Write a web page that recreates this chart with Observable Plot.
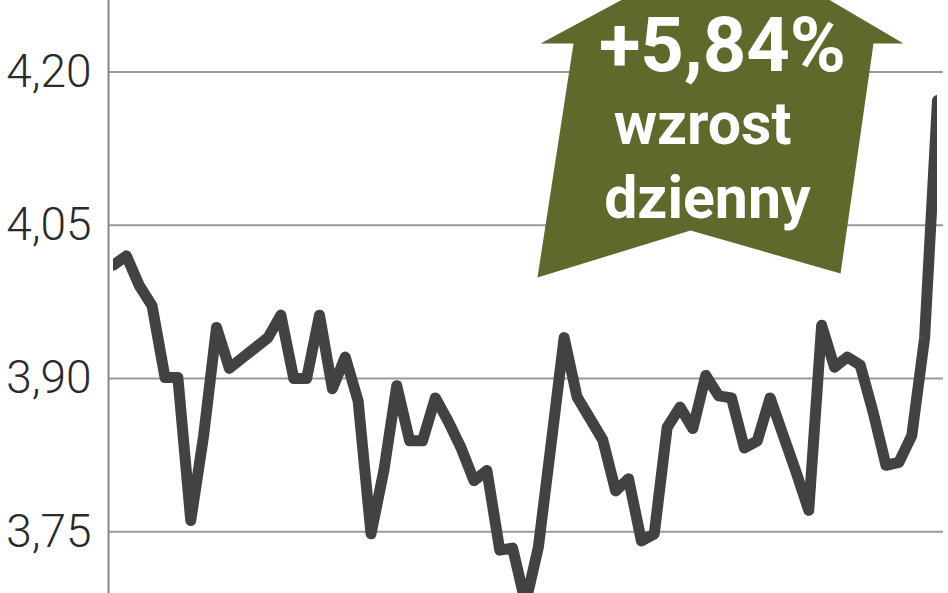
<!DOCTYPE html>
<html><head><meta charset="utf-8">
<script src="https://cdn.jsdelivr.net/npm/d3@7"></script>
<script src="https://cdn.jsdelivr.net/npm/@observablehq/plot@0.6"></script>
<style>
html,body{margin:0;padding:0;background:#fff;}
#chart{width:948px;height:593px;overflow:hidden;}
</style></head><body><div id="chart"></div>
<script>
// daily closing prices (PLN), one per session
const closes = [
  4.011, 4.020, 3.991, 3.971, 3.901, 3.901, 3.761, 3.844, 3.950, 3.910,
  3.920, 3.930, 3.940, 3.962, 3.900, 3.900, 3.962, 3.890, 3.921, 3.878,
  3.748, 3.810, 3.893, 3.839, 3.839, 3.881, 3.858, 3.832, 3.800, 3.810,
  3.732, 3.734, 3.680, 3.735, 3.837, 3.940, 3.882, 3.861, 3.840, 3.790,
  3.802, 3.741, 3.748, 3.852, 3.872, 3.851, 3.903, 3.883, 3.881, 3.832,
  3.839, 3.881, 3.845, 3.809, 3.771, 3.952, 3.911, 3.921, 3.913, 3.867,
  3.815, 3.818, 3.844, 3.940, 4.172
];
const yTicks = [3.75, 3.90, 4.05, 4.20];
const badgeLines = ["+5,84%", "wzrost", "dzienny"];

// annotation arrow outline in data units (session index, price)
const arrowX = [33.17, 47.9, 61.36, 59.03, 56.47, 44.82, 32.93, 35.73, 33.17];
const arrowY = [4.2278, 4.3276, 4.2278, 4.2278, 4.0027, 4.0448, 3.9988, 4.2278, 4.2278];
const badgeX = [47.3, 45.75, 46.13];
const badgeY = [4.2245, 4.1475, 4.0751];

const arrow = arrowX.map((x, i) => ({x, y: arrowY[i]}));
const badge = badgeLines.map((t, i) => ({t, x: badgeX[i], y: badgeY[i], big: i === 0}));
const fmt = d => d.toFixed(2).replace(".", ",");

const chart = Plot.plot({
  width: 948,
  height: 593,
  marginLeft: 113,
  marginRight: 11,
  marginTop: 0,
  marginBottom: 0,
  style: {fontFamily: "Roboto, sans-serif", background: "#fff", color: "#2a2a2a"},
  x: {domain: [0, closes.length - 1], axis: null},
  y: {domain: [3.6896, 4.2699], label: null},
  marks: [
    Plot.ruleY(yTicks, {stroke: "#9a9a9a", strokeWidth: 2, insetLeft: -5, insetRight: -6}),
    Plot.ruleX([0], {dx: -5, stroke: "#858585", strokeWidth: 2}),
    Plot.axisY({ticks: yTicks, tickSize: 0, tickPadding: 22, tickFormat: fmt, label: null,
      fontSize: 46, fontWeight: 300, fill: "#2a2a2a"}),
    Plot.line(closes, {x: (d, i) => i, y: d => d, stroke: "#424242", strokeWidth: 11,
      strokeLinejoin: "round", strokeLinecap: "round", clip: true}),
    Plot.line(arrow, {x: "x", y: "y", fill: "#5d6a2c", stroke: "none", clip: true}),
    Plot.text(badge.filter(d => d.big), {x: "x", y: "y", text: "t", fill: "#fff",
      fontSize: 76, fontWeight: 700, textAnchor: "middle"}),
    Plot.text(badge.filter(d => !d.big), {x: "x", y: "y", text: "t", fill: "#fff",
      fontSize: 59, fontWeight: 700, textAnchor: "middle"})
  ]
});
document.getElementById("chart").appendChild(chart);
</script>
</body></html>
